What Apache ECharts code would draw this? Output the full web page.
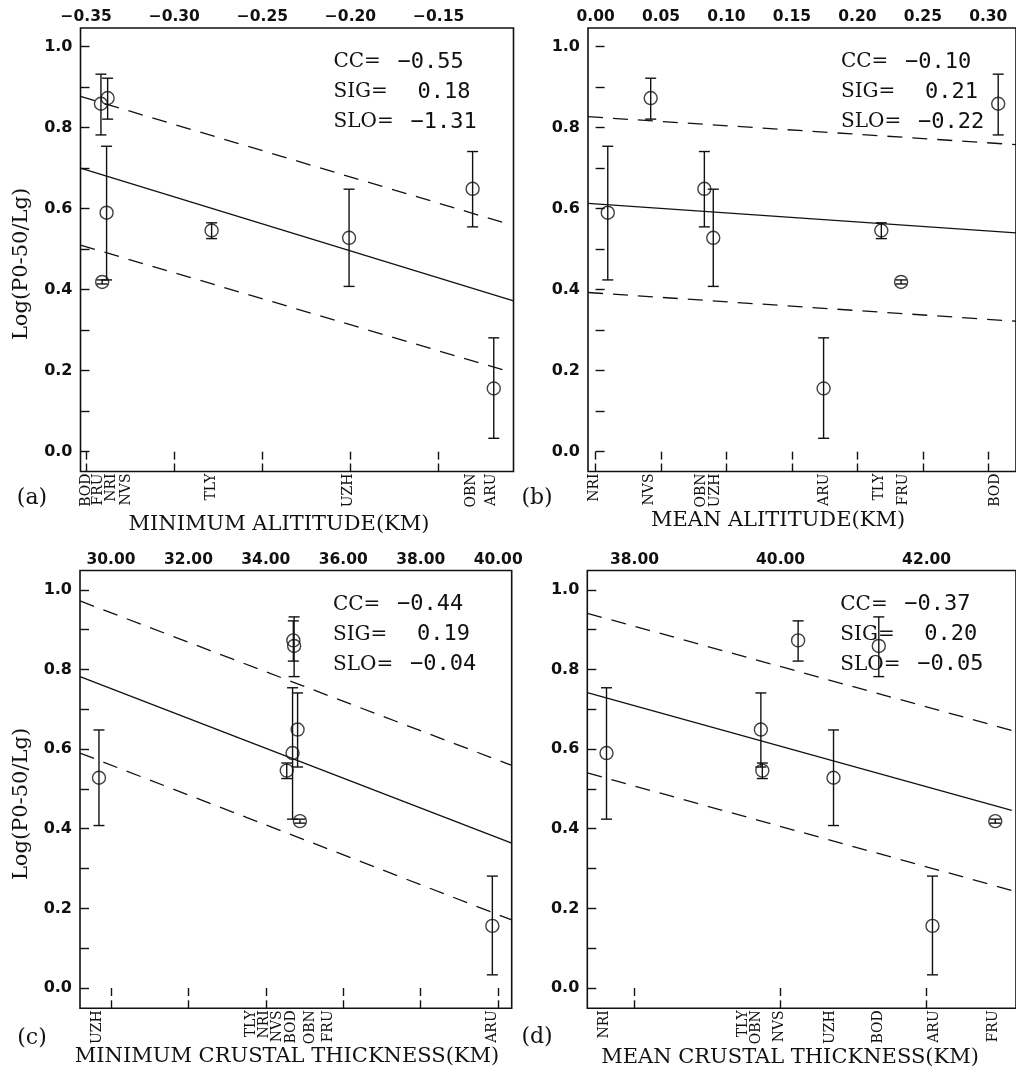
<!DOCTYPE html>
<html><head><meta charset="utf-8">
<script src="https://cdn.jsdelivr.net/npm/echarts@6/dist/echarts.min.js"></script>
<style>html,body{margin:0;padding:0;background:#fff}#c{width:1016px;height:1070px}</style>
</head><body><div id="c"></div>
<script>
// ---- data ----
const stations = ['NRI','NVS','OBN','UZH','ARU','TLY','FRU','BOD'];
const logVal  = [0.590,0.873,0.649,0.528,0.156,0.546,0.419,0.859];
const errLow  = [0.424,0.821,0.555,0.408,0.033,0.526,0.414,0.782];
const errHigh = [0.754,0.922,0.741,0.648,0.281,0.565,0.424,0.932];

const minAltitude  = [-0.3384,-0.3378,-0.1307,-0.2008,-0.1187,-0.2788,-0.3409,-0.3416];
const meanAltitude = [0.0093,0.0421,0.0831,0.0899,0.1742,0.2183,0.2334,0.3076];
const minCrust     = [34.69,34.71,34.82,29.69,39.85,34.54,34.88,34.73];
const meanCrust    = [37.616,40.24,39.73,40.725,42.08,39.75,42.94,41.345];

// station-name label positions along each bottom axis (data units)
const labelPosA = [-0.3359,-0.3274,-0.1312,-0.2012,-0.1199,-0.2788,-0.3433,-0.3501];
const labelPosB = [-0.0008,0.0408,0.0808,0.0914,0.1745,0.2168,0.2349,0.3051];
const labelPosC = [33.96,34.30,35.14,29.66,39.86,33.63,35.61,34.67];
const labelPosD = [37.59,39.99,39.67,40.68,42.11,39.49,42.91,41.34];

// regression line and +/- SIG band endpoints
const fitA = [[-0.3532,0.700],[-0.1075,0.372]];
const upA  = [[-0.3532,0.877],[-0.1104,0.562]];
const loA  = [[-0.3532,0.510],[-0.1104,0.198]];
const fitB = [[-0.0058,0.613],[0.3212,0.540]];
const upB  = [[-0.0058,0.827],[0.3212,0.758]];
const loB  = [[-0.0058,0.393],[0.3212,0.322]];
const fitC = [[29.20,0.782],[40.35,0.364]];
const upC  = [[29.20,0.972],[40.35,0.559]];
const loC  = [[29.20,0.590],[40.35,0.171]];
const fitD = [[37.353,0.742],[43.166,0.446]];
const upD  = [[37.353,0.941],[43.166,0.647]];
const loD  = [[37.353,0.540],[43.166,0.245]];

const statNames = ['CC=','SIG=','SLO='];
const statsA = ['\u22120.55','0.18','\u22121.31'];
const statsB = ['\u22120.10','0.21','\u22120.22'];
const statsC = ['\u22120.44','0.19','\u22120.04'];
const statsD = ['\u22120.37','0.20','\u22120.05'];

const topTicksA = [-0.35,-0.30,-0.25,-0.20,-0.15];
const topTicksB = [0.00,0.05,0.10,0.15,0.20,0.25,0.30];
const topTicksC = [30,32,34,36,38,40];
const topTicksD = [38,40,42];
const yTicks  = [0,0.1,0.2,0.3,0.4,0.5,0.6,0.7,0.8,0.9,1.0];
const yLabels = [0,0.2,0.4,0.6,0.8,1.0];

const axisTitles = ['MINIMUM ALITITUDE(KM)','MEAN ALITITUDE(KM)','MINIMUM CRUSTAL THICKNESS(KM)','MEAN CRUSTAL THICKNESS(KM)'];
const panelTags = ['(a)','(b)','(c)','(d)'];
const yTitle = 'Log(P0-50/Lg)';

// ---- layout ----
const grids = [
  {left:80.5, top:28, width:433, height:443.5},
  {left:588, top:28, width:433, height:443.5},
  {left:80, top:570.5, width:431.7, height:437.8},
  {left:587.3, top:570.5, width:433, height:437.8}
];
const xRanges = [[-0.3532,-0.1075],[-0.0058,0.3212],[29.20,40.35],[37.353,43.224]];
const yRanges = [[-0.049,1.046],[-0.049,1.046],[-0.051,1.0485],[-0.051,1.0485]];

const panels = [
  {x:minAltitude, lab:labelPosA, fit:fitA, up:upA, lo:loA, stats:statsA, ticks:topTicksA},
  {x:meanAltitude, lab:labelPosB, fit:fitB, up:upB, lo:loB, stats:statsB, ticks:topTicksB},
  {x:minCrust, lab:labelPosC, fit:fitC, up:upC, lo:loC, stats:statsC, ticks:topTicksC},
  {x:meanCrust, lab:labelPosD, fit:fitD, up:upD, lo:loD, stats:statsD, ticks:topTicksD}
];

const INK = '#111';
const SERIF = '"DejaVu Serif", serif';
const SANS = '"DejaVu Sans", sans-serif';
const MONO = '"DejaVu Sans Mono", monospace';

const option = {
  animation:false,
  backgroundColor:'#fff',
  grid: grids.map(g => Object.assign({show:true, borderColor:INK, borderWidth:1.6, backgroundColor:'rgba(0,0,0,0)'}, g)),
  xAxis: [], yAxis: [], series: [], graphic: []
};

panels.forEach((p, i) => {
  option.xAxis.push({
    type:'value', gridIndex:i, position:'top', min:xRanges[i][0], max:xRanges[i][1],
    axisLine:{show:false}, splitLine:{show:false},
    axisTick:{show:true, inside:true, length:8, customValues:p.ticks, lineStyle:{color:INK, width:1.4}},
    axisLabel:{show:true, customValues:p.ticks, margin:3, color:INK, fontFamily:SANS, fontWeight:'bold', fontSize:15.5,
      formatter: v => (v < 0 ? '\u2212' : '') + Math.abs(v).toFixed(2)}
  });
  option.xAxis.push({
    type:'value', gridIndex:i, position:'bottom', min:xRanges[i][0], max:xRanges[i][1],
    axisLine:{show:false}, splitLine:{show:false},
    axisTick:{show:true, inside:true, length:8, customValues:p.ticks, lineStyle:{color:INK, width:1.4}},
    axisLabel:{show:false}
  });
  option.yAxis.push({
    type:'value', gridIndex:i, min:yRanges[i][0], max:yRanges[i][1],
    axisLine:{show:false}, splitLine:{show:false},
    axisTick:{show:true, inside:true, length:9, customValues:yTicks, lineStyle:{color:INK, width:1.4}},
    axisLabel:{show:true, customValues:yLabels, margin:8, color:INK, fontFamily:SANS, fontWeight:'bold', fontSize:16,
      formatter: v => v.toFixed(1)}
  });

  const xTop = 2*i, xBot = 2*i+1;
  const lineBase = {type:'line', xAxisIndex:xTop, yAxisIndex:i, showSymbol:false, symbol:'none', silent:true, clip:true};
  option.series.push(Object.assign({}, lineBase, {data:p.fit, lineStyle:{color:INK, width:1.3, type:'solid'}}));
  option.series.push(Object.assign({}, lineBase, {data:p.up, lineStyle:{color:INK, width:1.3, type:[15,10]}}));
  option.series.push(Object.assign({}, lineBase, {data:p.lo, lineStyle:{color:INK, width:1.3, type:[15,10]}}));

  // error bars
  option.series.push({
    type:'custom', xAxisIndex:xTop, yAxisIndex:i, clip:false, silent:true,
    data: p.x.map((x, k) => [x, errLow[k], errHigh[k]]),
    renderItem(params, api) {
      const a = api.coord([api.value(0), api.value(1)]);
      const b = api.coord([api.value(0), api.value(2)]);
      const w = 5.5, st = {stroke:INK, lineWidth:1.4};
      return {type:'group', children:[
        {type:'line', shape:{x1:a[0], y1:a[1], x2:b[0], y2:b[1]}, style:st},
        {type:'line', shape:{x1:a[0]-w, y1:a[1], x2:a[0]+w, y2:a[1]}, style:st},
        {type:'line', shape:{x1:b[0]-w, y1:b[1], x2:b[0]+w, y2:b[1]}, style:st}
      ]};
    }
  });
  // station circles
  option.series.push({
    type:'scatter', xAxisIndex:xTop, yAxisIndex:i, clip:false, silent:true,
    symbol:'circle', symbolSize:13,
    itemStyle:{color:'rgba(0,0,0,0)', borderColor:INK, borderWidth:1.4},
    data: p.x.map((x, k) => [x, logVal[k]])
  });
  // station names under the bottom axis
  option.series.push({
    type:'custom', xAxisIndex:xBot, yAxisIndex:i, clip:false, silent:true,
    data: p.lab.map(x => [x, 0]),
    renderItem(params, api) {
      const cs = params.coordSys;
      const px = api.coord([api.value(0), 0])[0];
      return {type:'text', x:px, y:cs.y + cs.height + 2, rotation:Math.PI/2,
        style:{text:stations[params.dataIndex], align:'right', verticalAlign:'middle',
          font:'14px ' + SERIF, fill:INK}};
    }
  });

  // stats annotation
  const g = grids[i];
  const valOff = [64, 84, 77];
  statNames.forEach((nm, r) => {
    const y = g.top + 34 + 30*r;
    option.graphic.push({type:'text', x:g.left + 253, y:y, silent:true,
      style:{text:nm, font:'20px ' + SERIF, fill:INK, align:'left', verticalAlign:'middle'}});
    option.graphic.push({type:'text', x:g.left + 253 + valOff[r], y:y, silent:true,
      style:{text:p.stats[r], font:'22px ' + MONO, fill:INK, align:'left', verticalAlign:'middle'}});
  });
});

const titlePos = [[279,525],[778,521],[287,1057],[790,1058]];
const tagPos = [[32,498],[537,498],[32,1038],[537,1037]];
axisTitles.forEach((t, i) => {
  option.graphic.push({type:'text', x:titlePos[i][0], y:titlePos[i][1], silent:true,
    style:{text:t, font:'21px ' + SERIF, fill:INK, align:'center', verticalAlign:'middle'}});
  option.graphic.push({type:'text', x:tagPos[i][0], y:tagPos[i][1], silent:true,
    style:{text:panelTags[i], font:'22px ' + SERIF, fill:INK, align:'center', verticalAlign:'middle'}});
});
[[22,264],[22,804]].forEach(pt => {
  option.graphic.push({type:'text', x:pt[0], y:pt[1], rotation:Math.PI/2, silent:true,
    style:{text:yTitle, font:'21px ' + SERIF, fill:INK, align:'center', verticalAlign:'middle'}});
});

const chart = echarts.init(document.getElementById('c'), null, {renderer:'canvas', width:1016, height:1070});
chart.setOption(option);
</script>
</body></html>
